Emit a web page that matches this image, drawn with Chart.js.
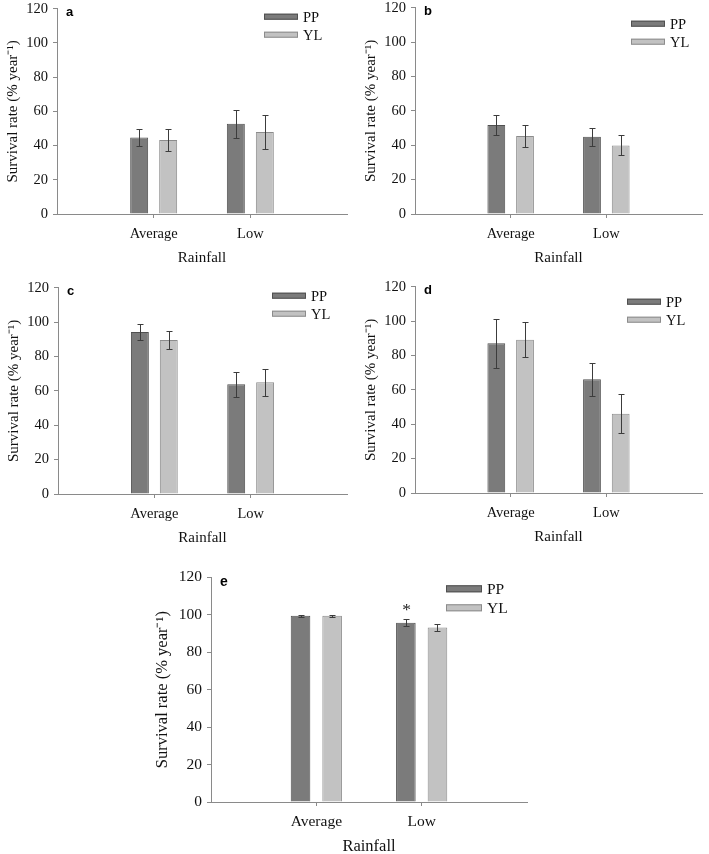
<!DOCTYPE html>
<html>
<head>
<meta charset="utf-8">
<script src="https://cdn.jsdelivr.net/npm/chart.js@4"></script>
<style>
  html, body { margin:0; padding:0; background:#fff; }
  body { width:709px; height:854px; position:relative; overflow:hidden; }
  canvas { position:absolute; }
</style>
</head>
<body>
<canvas id="a"></canvas>
<canvas id="b"></canvas>
<canvas id="c"></canvas>
<canvas id="d"></canvas>
<canvas id="e"></canvas>
<script>
// data (survival rate, % per year, mean +- error)
const categories = ['Average', 'Low'];
const seriesNames = ['PP', 'YL'];
const yMax = 120, yStep = 20;

const aPP = [44.7, 52.8], aPPerr = [5.2, 8.1];
const aYL = [43.2, 48.0], aYLerr = [6.3, 9.9];
const bPP = [51.8, 44.9], bPPerr = [5.7, 5.1];
const bYL = [45.3, 39.9], bYLerr = [6.2, 5.8];
const cPP = [94.3, 63.8], cPPerr = [4.5, 7.4];
const cYL = [89.6, 65.0], cYLerr = [5.4, 7.9];
const dPP = [87.1, 66.2], dPPerr = [14.3, 9.5];
const dYL = [89.2, 46.1], dYLerr = [10.1, 11.2];
const ePP = [99.4, 95.7], ePPerr = [0.5, 1.8];
const eYL = [99.5, 93.2], eYLerr = [0.5, 2.0];
const eSig = ['', '*'];

const SERIF = "'Liberation Serif', 'Times New Roman', serif";
const AXIS = '#8a8a8a';
const colors = {
  PP: {fill:'#7b7b7b', line:'#505050'},
  YL: {fill:'#c2c2c2', line:'#8c8c8c'}
};

// pad the category axis with an empty slot on each side (as in the figure)
const pad = (arr)=>[null, ...arr, null];

const extras = {
  id:'extras',
  afterDatasetsDraw(chart, args, o){
    const ctx = chart.ctx, ys = chart.scales.y;
    chart.data.datasets.forEach((ds, di)=>{
      const meta = chart.getDatasetMeta(di);
      meta.data.forEach((bar, i)=>{
        const v = ds.data[i], e = ds.err ? ds.err[i] : null;
        if(v==null || e==null) return;
        const x = Math.round(bar.x)+0.5;
        const y1 = Math.round(ys.getPixelForValue(v+e))+0.5;
        const y2 = Math.round(ys.getPixelForValue(v-e))+0.5;
        ctx.save();
        ctx.strokeStyle = '#3c3c3c'; ctx.lineWidth = 1;
        ctx.beginPath();
        ctx.moveTo(x, y1); ctx.lineTo(x, y2);
        ctx.moveTo(x-3, y1); ctx.lineTo(x+3, y1);
        ctx.moveTo(x-3, y2); ctx.lineTo(x+3, y2);
        ctx.stroke();
        if(ds.sig && ds.sig[i]){
          ctx.fillStyle = '#222';
          ctx.font = `${o.font+2}px ${SERIF}`;
          ctx.textAlign = 'center'; ctx.textBaseline = 'middle';
          ctx.fillText(ds.sig[i], x, y1 - 9);
        }
        ctx.restore();
      });
    });
  },
  afterDraw(chart, args, o){
    const ctx = chart.ctx, a = chart.chartArea;
    ctx.save();
    // panel letter
    ctx.fillStyle = '#000';
    ctx.font = `bold ${o.letterSize}px 'Liberation Sans', Arial, sans-serif`;
    ctx.textAlign = 'left'; ctx.textBaseline = 'alphabetic';
    ctx.fillText(o.letter, a.left + o.letterDx, a.top + o.letterDy);
    // legend
    const bx = a.right - o.legX, by = a.top + o.legY;
    ctx.font = `${o.font}px ${SERIF}`;
    ctx.textBaseline = 'middle';
    chart.data.datasets.forEach((ds, i)=>{
      const y = by + i*o.legGap;
      ctx.fillStyle = ds.backgroundColor;
      ctx.fillRect(bx, y, o.boxW, o.boxH);
      ctx.strokeStyle = ds.borderColor; ctx.lineWidth = 1;
      ctx.strokeRect(bx+0.5, y+0.5, o.boxW-1, o.boxH-1);
      ctx.fillStyle = '#111';
      ctx.fillText(ds.label, bx + o.boxW + 5, y + o.boxH/2 + 1);
    });
    ctx.restore();
  }
};

function makePanel(p){
  const yW = p.yW, padTop = 12, padRight = p.padRight;
  const el = document.getElementById(p.id);
  const w = yW + (p.area.r - p.area.l) + padRight;
  const h = padTop + (p.area.b - p.area.t) + p.xH;
  el.width = w; el.height = h;
  el.style.left = (p.area.l - yW) + 'px';
  el.style.top = (p.area.t - padTop) + 'px';
  el.style.width = w + 'px'; el.style.height = h + 'px';

  const tickFont = {family:SERIF, size:p.font};
  const ds = (name, vals, err, sig)=>({
    label:name, data:pad(vals), err:pad(err), sig: sig ? pad(sig) : null,
    backgroundColor:colors[name].fill, borderColor:colors[name].line, borderWidth:1,
    categoryPercentage:0.6, barPercentage:0.62
  });

  return new Chart(el, {
    type:'bar',
    data:{
      labels:['', ...categories, ''],
      datasets:[ ds(seriesNames[0], p.pp, p.ppErr, p.ppSig), ds(seriesNames[1], p.yl, p.ylErr) ]
    },
    options:{
      responsive:false, animation:false, devicePixelRatio:1,
      layout:{padding:{top:padTop, right:padRight, left:0, bottom:0}},
      plugins:{
        legend:{display:false}, tooltip:{enabled:false},
        extras:{letter:p.id, letterSize:p.letterSize, letterDx:9, letterDy:p.letterDy,
          legX:p.legX, legY:p.legY, legGap:p.legGap, boxW:p.boxW, boxH:p.boxH, font:p.font}
      },
      scales:{
        x:{
          offset:false,
          afterFit:(s)=>{ s.height = p.xH; },
          border:{color:AXIS, width:1},
          grid:{offset:false, drawOnChartArea:false, drawTicks:true, tickLength:4,
            tickColor:(c)=> (c.index===1 || c.index===2) ? AXIS : 'rgba(0,0,0,0)'},
          ticks:{font:tickFont, color:'#111', padding:7, maxRotation:0, autoSkip:false},
          title:{display:true, text:'Rainfall', font:{family:SERIF, size:p.titleSize}, color:'#111', padding:{top:4, bottom:4}}
        },
        y:{
          min:0, max:yMax,
          afterFit:(s)=>{ s.width = yW; },
          border:{color:AXIS, width:1},
          grid:{drawOnChartArea:false, drawTicks:true, tickLength:4, tickColor:AXIS},
          ticks:{stepSize:yStep, font:tickFont, color:'#111', padding:5},
          title:{display:true, text:'Survival rate (% year\u207B\u00B9)', font:{family:SERIF, size:p.titleSize}, color:'#111', padding:{top:4, bottom:4}}
        }
      }
    },
    plugins:[extras]
  });
}

const panels = [
  {id:'a', area:{l:57, r:348, t:7, b:214}, yW:57, xH:57, padRight:6, font:14.5, titleSize:15, letterSize:13, letterDy:7.5,
   legX:83, legY:5, legGap:18, boxW:34, boxH:6, pp:aPP, ppErr:aPPerr, yl:aYL, ylErr:aYLerr},
  {id:'b', area:{l:415, r:707, t:6, b:214}, yW:57, xH:57, padRight:2, font:14.5, titleSize:15, letterSize:13, letterDy:7.5,
   legX:71, legY:13, legGap:18, boxW:34, boxH:6, pp:bPP, ppErr:bPPerr, yl:bYL, ylErr:bYLerr},
  {id:'c', area:{l:58, r:348, t:286, b:494}, yW:57, xH:57, padRight:6, font:14.5, titleSize:15, letterSize:13, letterDy:7.5,
   legX:75, legY:5, legGap:18, boxW:34, boxH:6, pp:cPP, ppErr:cPPerr, yl:cYL, ylErr:cYLerr},
  {id:'d', area:{l:415, r:707, t:285, b:493}, yW:57, xH:57, padRight:2, font:14.5, titleSize:15, letterSize:13, letterDy:7.5,
   legX:75, legY:12, legGap:18, boxW:34, boxH:6, pp:dPP, ppErr:dPPerr, yl:dYL, ylErr:dYLerr},
  {id:'e', area:{l:211, r:528, t:575, b:802}, yW:62, xH:59, padRight:6, font:15.5, titleSize:16.5, letterSize:14, letterDy:9,
   legX:81, legY:8, legGap:19, boxW:36, boxH:7, pp:ePP, ppErr:ePPerr, ppSig:eSig, yl:eYL, ylErr:eYLerr}
];

panels.forEach(makePanel);
</script>
</body>
</html>
